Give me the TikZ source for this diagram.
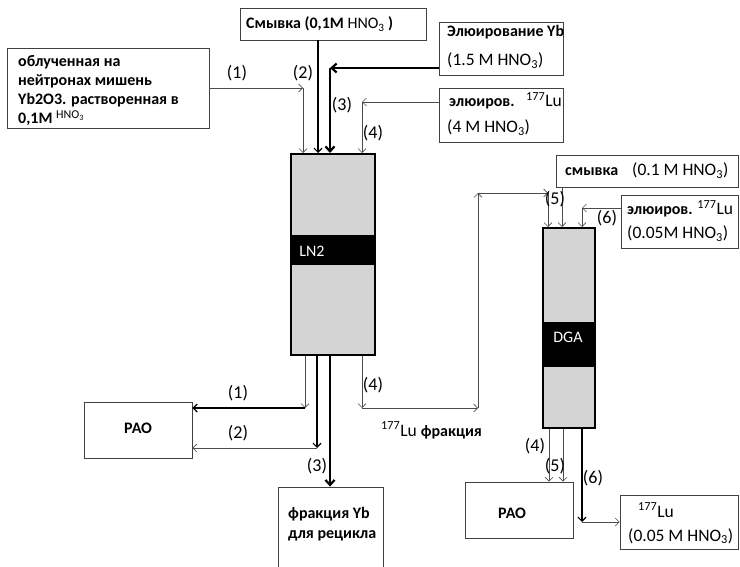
\documentclass[tikz,border=0pt]{standalone}
\usepackage{fontspec}
\setmainfont{Carlito}
\usetikzlibrary{arrows.meta}
\definecolor{colgray}{RGB}{212,212,212}

\begin{document}
\begin{tikzpicture}[x=1pt,y=-1pt,
  box/.style={draw=black!75, line width=0.8pt, inner sep=0pt},
  column/.style={draw=black, line width=2pt, fill=colgray, inner sep=0pt},
  band/.style={fill=black, inner sep=0pt},
  lbl/.style={font=\fontsize{17.5}{20}\selectfont, inner sep=0pt, anchor=base west},
  blbl/.style={lbl, font=\fontsize{16}{19}\selectfont\bfseries},
  num/.style={font=\fontsize{18}{20}\selectfont, inner sep=0pt},
  colname/.style={font=\fontsize{16}{19}\selectfont, text=white, inner sep=0pt},
  thinflow/.style={draw=black!70, line width=0.6pt, -{Straight Barb[length=4pt,width=8pt]}},
  medflow/.style={draw=black, line width=1.2pt, -{Straight Barb[length=4pt,width=8pt]}},
  thickflow/.style={draw=black, line width=2.2pt, -{Straight Barb[length=5pt,width=9pt]}},
]
\useasboundingbox (0,0) rectangle (740,567);
\clip (0,0) rectangle (740,567);
% Feed boxes (top left)
\node[box, minimum width=186pt, minimum height=32pt] (wash1) at (333,24) {};
\node[blbl] (wash1txt) at (246,29) {Смывка (0,1M \textmd{HNO\textsubscript{3}} )};
\node[box, minimum width=202pt, minimum height=80pt] (target) at (108,88) {};
\node[blbl, anchor=north west, align=left] (targettxt) at (18,55)
  {облученная на\\нейтронах мишень\\Yb2O3. растворенная в\\0,1M \textmd{\fontsize{12}{14}\selectfont\raisebox{5pt}{HNO\textsubscript{3}}}};
\node[box, minimum width=124pt, minimum height=53pt] (elutYb) at (501,48.5) {};
\node[blbl] (elutYbtxt) at (447,37) {Элюирование Yb};
\node[lbl] (elutYbacid) at (447,66) {(1.5 M HNO\textsubscript{3})};
\node[box, minimum width=124pt, minimum height=54pt] (elutLu) at (501,115) {};
\node[blbl] (elutLutxt) at (449,107) {элюиров.};
\node[lbl, anchor=base east] (elutLuiso) at (562,107) {\textsuperscript{177}Lu};
\node[lbl] (elutLuacid) at (447,133) {(4 M HNO\textsubscript{3})};
% LN2 column
\node[column, minimum width=84pt, minimum height=201pt] (ln2) at (333,254.5) {};
\node[band, minimum width=84pt, minimum height=30pt] (ln2band) at (333,250) {};
\node[colname] (ln2txt) at (312,251) {LN2};
% Inputs to LN2
\coordinate (in1) at (303,88);
\coordinate (in2) at (318,0);
\coordinate (in3) at (330,68);
\coordinate (in4) at (362,102);
\draw[thinflow] (target.east) -- (in1);
\draw[thinflow] (in1) -- (in1 |- ln2.north);
\draw[medflow] (in2 |- wash1.south) -- (in2 |- ln2.north);
\draw[thickflow] (in3 -| elutYb.west) -- (in3);
\draw[thickflow] (in3) -- (in3 |- ln2.north);
\draw[thinflow] (in4 -| elutLu.west) -- (in4);
\draw[thinflow] (in4) -- (in4 |- ln2.north);
\node[num] (n1in) at (237,73) {(1)};
\node[num] (n2in) at (303,73) {(2)};
\node[num] (n3in) at (342,105) {(3)};
\node[num] (n4in) at (373,133) {(4)};
% Outputs of LN2
\node[box, minimum width=108pt, minimum height=56pt] (waste1) at (138,430) {};
\node[num, font=\fontsize{16}{19}\selectfont\bfseries] (waste1txt) at (138,428) {РАО};
\node[box, minimum width=105pt, minimum height=90pt] (ybfrac) at (330.5,532) {};
\node[blbl] (ybfractxt) at (288,518) {фракция Yb};
\node[blbl] (ybfractxt2) at (288,538) {для рецикла};
\coordinate (out1) at (305,408);
\coordinate (out2) at (317,448);
\coordinate (out3) at (330,0);
\coordinate (out4) at (362,408);
\draw[thinflow] (out1 |- ln2.south) -- (out1);
\draw[medflow] (out1) -- (out1 -| waste1.east);
\draw[medflow] (out2 |- ln2.south) -- (out2);
\draw[thinflow] (out2) -- (out2 -| waste1.east);
\draw[thickflow] (out3 |- ln2.south) -- (out3 |- ybfrac.north);
\node[num] (n1out) at (238,393) {(1)};
\node[num] (n2out) at (238,433) {(2)};
\node[num] (n3out) at (317,466) {(3)};
\node[num] (n4out) at (373,385) {(4)};
% Lu-177 transfer to DGA
\coordinate (lu1) at (478,408);
\coordinate (lu2) at (478,193);
\coordinate (lu3) at (548,193);
\draw[thinflow] (out4 |- ln2.south) -- (out4);
\draw[thinflow] (out4) -- (lu1);
\draw[thinflow] (lu1) -- (lu2);
\draw[thinflow] (lu2) -- (lu3);
\node[lbl] (lufrac) at (381,436) {\textsuperscript{177}Lu \textbf{\fontsize{16}{19}\selectfont фракция}};
% DGA column and its feeds
\node[box, minimum width=182pt, minimum height=32pt] (wash2) at (647,171) {};
\node[blbl] (wash2txt) at (565,176) {смывка};
\node[lbl] (wash2acid) at (632,176) {(0.1 M HNO\textsubscript{3})};
\node[box, minimum width=117pt, minimum height=53pt] (elutLu2) at (679.5,221.5) {};
\node[blbl] (elutLu2txt) at (627,215) {элюиров. \textmd{\fontsize{17.5}{20}\selectfont\textsuperscript{177}Lu}};
\node[lbl] (elutLu2acid) at (627,239) {(0.05M HNO\textsubscript{3})};
\node[column, minimum width=52pt, minimum height=200pt] (dga) at (569,328) {};
\node[band, minimum width=52pt, minimum height=45pt] (dgaband) at (569,344.5) {};
\node[colname] (dgatxt) at (568,337) {DGA};
\coordinate (in5) at (562,0);
\coordinate (in6) at (582,208);
\draw[thinflow] (lu3) -- (lu3 |- dga.north);
\draw[thinflow] (in5 |- wash2.south) -- (in5 |- dga.north);
\draw[thinflow] (in6 -| elutLu2.west) -- (in6);
\draw[thinflow] (in6) -- (in6 |- dga.north);
\node[num] (n5in) at (555,199) {(5)};
\node[num] (n6in) at (607,218) {(6)};
% Outputs of DGA
\node[box, minimum width=108pt, minimum height=56pt] (waste2) at (519,510) {};
\node[num, font=\fontsize{16}{19}\selectfont\bfseries] (waste2txt) at (512,513) {РАО};
\node[box, minimum width=118pt, minimum height=54pt] (luprod) at (679,522) {};
\node[lbl] (luprodtxt) at (638,517) {\textsuperscript{177}Lu};
\node[lbl] (luprodacid) at (628,541) {(0.05 M HNO\textsubscript{3})};
\coordinate (dout4) at (549,0);
\coordinate (dout5) at (563,0);
\coordinate (dout6) at (582,522);
\draw[thinflow] (dout4 |- dga.south) -- (dout4 |- waste2.north);
\draw[thinflow] (dout5 |- dga.south) -- (dout5 |- waste2.north);
\draw[medflow] (dout6 |- dga.south) -- (dout6);
\draw[thinflow] (dout6) -- (dout6 -| luprod.west);
\node[num] (n4dga) at (535,446) {(4)};
\node[num] (n5dga) at (555,466) {(5)};
\node[num] (n6dga) at (593,478) {(6)};
\end{tikzpicture}
\end{document}
